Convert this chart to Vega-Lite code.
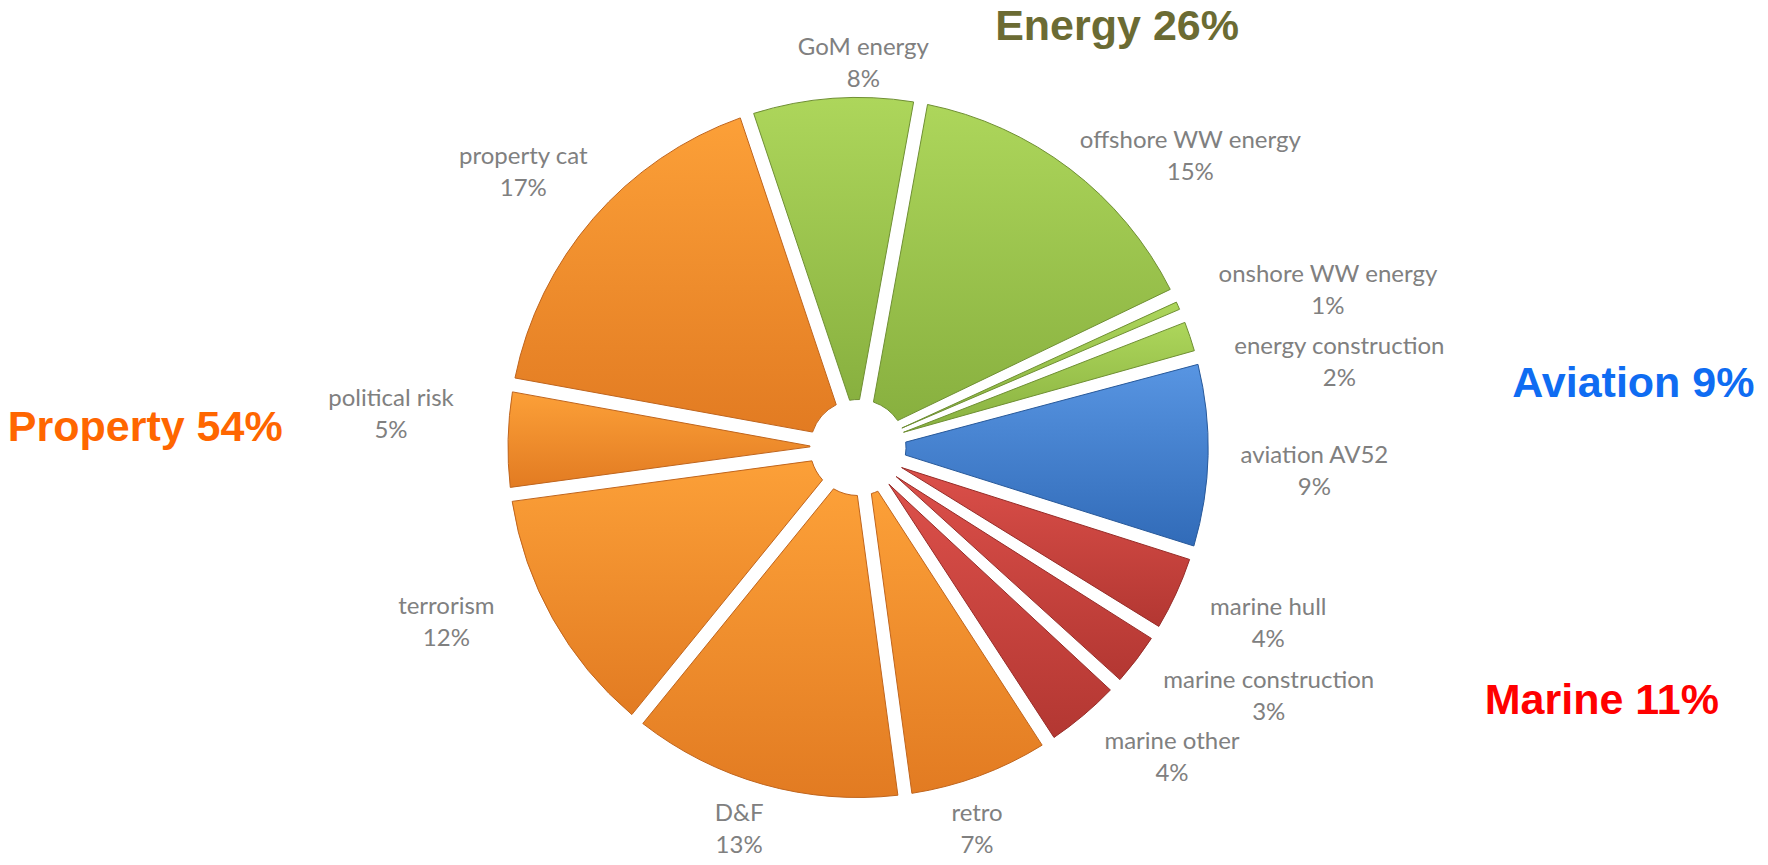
{
  "$schema": "https://vega.github.io/schema/vega-lite/v6.json",
  "autosize": {"type": "none"},
  "width": 1716,
  "height": 835,
  "padding": {"left": 0, "top": 30, "right": 52, "bottom": 0},
  "background": "white",
  "config": {"view": {"stroke": null}},
  "data": {
    "values": [
      {"segment": "GoM energy", "group": "Energy", "share": 8},
      {"segment": "offshore WW energy", "group": "Energy", "share": 15},
      {"segment": "onshore WW energy", "group": "Energy", "share": 1},
      {"segment": "energy construction", "group": "Energy", "share": 2},
      {"segment": "aviation AV52", "group": "Aviation", "share": 9},
      {"segment": "marine hull", "group": "Marine", "share": 4},
      {"segment": "marine construction", "group": "Marine", "share": 3},
      {"segment": "marine other", "group": "Marine", "share": 4},
      {"segment": "retro", "group": "Property", "share": 7},
      {"segment": "D&F", "group": "Property", "share": 13},
      {"segment": "terrorism", "group": "Property", "share": 12},
      {"segment": "political risk", "group": "Property", "share": 5},
      {"segment": "property cat", "group": "Property", "share": 17}
    ]
  },
  "transform": [
    {"window": [{"op": "row_number", "as": "k"}]},
    {"stack": "share", "groupby": [], "sort": [{"field": "k", "order": "ascending"}], "as": ["v0", "v1"]},
    {"calculate": "(datum.v0 + datum.v1) / 2", "as": "vmid"},
    {"calculate": "datum.segment + '\\n' + datum.share + '%'", "as": "label"}
  ],
  "layer": [
    {
      "mark": {"type": "arc", "outerRadius": 350, "innerRadius": 48, "padAngle": 0.04, "strokeWidth": 1},
      "encoding": {
        "theta": {"field": "v0", "type": "quantitative", "scale": {"domain": [0, 100], "range": [-0.32289, 5.96030]}},
        "theta2": {"field": "v1"},
        "fill": {
          "condition": [
            {"test": "datum.group === 'Energy'", "value": {"gradient": "linear", "x1": 0, "y1": 0, "x2": 0, "y2": 1, "stops": [{"offset": 0, "color": "#ADD65B"}, {"offset": 1, "color": "#88B03F"}]}},
            {"test": "datum.group === 'Aviation'", "value": {"gradient": "linear", "x1": 0, "y1": 0, "x2": 0, "y2": 1, "stops": [{"offset": 0, "color": "#5895E2"}, {"offset": 1, "color": "#316BB8"}]}},
            {"test": "datum.group === 'Marine'", "value": {"gradient": "linear", "x1": 0, "y1": 0, "x2": 0, "y2": 1, "stops": [{"offset": 0, "color": "#DC504A"}, {"offset": 1, "color": "#B33732"}]}}
          ],
          "value": {"gradient": "linear", "x1": 0, "y1": 0, "x2": 0, "y2": 1, "stops": [{"offset": 0, "color": "#FCA038"}, {"offset": 1, "color": "#E27B22"}]}
        },
        "stroke": {
          "condition": [
            {"test": "datum.group === 'Energy'", "value": "#6F8F33"},
            {"test": "datum.group === 'Aviation'", "value": "#28599A"},
            {"test": "datum.group === 'Marine'", "value": "#962C28"}
          ],
          "value": "#C0651D"
        }
      }
    },
    {
      "transform": [{"filter": "datum.vmid < 8"}],
      "mark": {"type": "text", "radius": 400, "thetaOffset": 0.085, "align": "center", "baseline": "middle", "font": "Lato", "fontSize": 24, "lineHeight": 32, "lineBreak": "\n", "fill": "#808080"},
      "encoding": {
        "theta": {"field": "vmid", "type": "quantitative", "scale": {"domain": [0, 100], "range": [-0.32289, 5.96030]}},
        "text": {"field": "label"}
      }
    },
    {
      "transform": [{"filter": "datum.vmid > 46 && datum.vmid < 66"}],
      "mark": {"type": "text", "radius": 385, "thetaOffset": 0.04, "align": "center", "baseline": "middle", "font": "Lato", "fontSize": 24, "lineHeight": 32, "lineBreak": "\n", "fill": "#808080"},
      "encoding": {
        "theta": {"field": "vmid", "type": "quantitative", "scale": {"domain": [0, 100], "range": [-0.32289, 5.96030]}},
        "text": {"field": "label"}
      }
    },
    {
      "transform": [{"filter": "datum.vmid > 10 && datum.vmid < 46 && datum.share > 2"}],
      "mark": {"type": "text", "radius": 385, "align": "center", "dx": {"expr": "length(datum.segment) * 5.5"}, "baseline": "middle", "font": "Lato", "fontSize": 24, "lineHeight": 32, "lineBreak": "\n", "fill": "#808080"},
      "encoding": {
        "theta": {"field": "vmid", "type": "quantitative", "scale": {"domain": [0, 100], "range": [-0.32289, 5.96030]}},
        "text": {"field": "label"}
      }
    },
    {
      "transform": [{"filter": "datum.segment === 'onshore WW energy'"}],
      "mark": {"type": "text", "radius": 397, "align": "center", "dx": {"expr": "length(datum.segment) * 6.6"}, "baseline": "middle", "font": "Lato", "fontSize": 24, "lineHeight": 32, "lineBreak": "\n", "fill": "#808080"},
      "encoding": {
        "theta": {"field": "v0", "type": "quantitative", "scale": {"domain": [0, 100], "range": [-0.32289, 5.96030]}},
        "text": {"field": "label"}
      }
    },
    {
      "transform": [{"filter": "datum.segment === 'energy construction'"}],
      "mark": {"type": "text", "radius": 390, "align": "center", "dx": {"expr": "length(datum.segment) * 5.5"}, "baseline": "middle", "font": "Lato", "fontSize": 24, "lineHeight": 32, "lineBreak": "\n", "fill": "#808080"},
      "encoding": {
        "theta": {"field": "v1", "type": "quantitative", "scale": {"domain": [0, 100], "range": [-0.32289, 5.96030]}},
        "text": {"field": "label"}
      }
    },
    {
      "transform": [{"filter": "datum.vmid > 66"}],
      "mark": {"type": "text", "radius": 400, "thetaOffset": 0.1, "align": "center", "dx": {"expr": "-length(datum.segment) * 5.0"}, "baseline": "middle", "font": "Lato", "fontSize": 24, "lineHeight": 32, "lineBreak": "\n", "fill": "#808080"},
      "encoding": {
        "theta": {"field": "vmid", "type": "quantitative", "scale": {"domain": [0, 100], "range": [-0.32289, 5.96030]}},
        "text": {"field": "label"}
      }
    },
    {
      "transform": [
        {"aggregate": [{"op": "sum", "field": "share", "as": "gsum"}, {"op": "min", "field": "v0", "as": "g0"}, {"op": "max", "field": "v1", "as": "g1"}], "groupby": ["group"]},
        {"calculate": "(datum.g0 + datum.g1) / 2", "as": "gmid"},
        {"calculate": "datum.group + ' ' + datum.gsum + '%'", "as": "title"}
      ],
      "layer": [
        {
          "transform": [{"filter": "datum.group === 'Energy'"}],
          "mark": {"type": "text", "radius": 494, "thetaOffset": 0.0581, "align": "center", "baseline": "middle", "font": "Liberation Sans", "fontWeight": "bold", "fontSize": 43, "fill": "#6B6B33"},
          "encoding": {
            "theta": {"field": "gmid", "type": "quantitative", "scale": {"domain": [0, 100], "range": [-0.32289, 5.96030]}},
            "text": {"field": "title"}
          }
        },
        {
          "transform": [{"filter": "datum.group === 'Aviation'"}],
          "mark": {"type": "text", "radius": 778, "thetaOffset": -0.1044, "align": "center", "baseline": "middle", "font": "Liberation Sans", "fontWeight": "bold", "fontSize": 43, "fill": "#0F6CF2"},
          "encoding": {
            "theta": {"field": "gmid", "type": "quantitative", "scale": {"domain": [0, 100], "range": [-0.32289, 5.96030]}},
            "text": {"field": "title"}
          }
        },
        {
          "transform": [{"filter": "datum.group === 'Marine'"}],
          "mark": {"type": "text", "radius": 786, "thetaOffset": -0.322, "align": "center", "baseline": "middle", "font": "Liberation Sans", "fontWeight": "bold", "fontSize": 43, "fill": "#FF0000"},
          "encoding": {
            "theta": {"field": "gmid", "type": "quantitative", "scale": {"domain": [0, 100], "range": [-0.32289, 5.96030]}},
            "text": {"field": "title"}
          }
        },
        {
          "transform": [{"filter": "datum.group === 'Property'"}],
          "mark": {"type": "text", "radius": 713, "thetaOffset": 0.476, "align": "center", "baseline": "middle", "font": "Liberation Sans", "fontWeight": "bold", "fontSize": 43, "fill": "#FF6600"},
          "encoding": {
            "theta": {"field": "gmid", "type": "quantitative", "scale": {"domain": [0, 100], "range": [-0.32289, 5.96030]}},
            "text": {"field": "title"}
          }
        }
      ]
    }
  ]
}
